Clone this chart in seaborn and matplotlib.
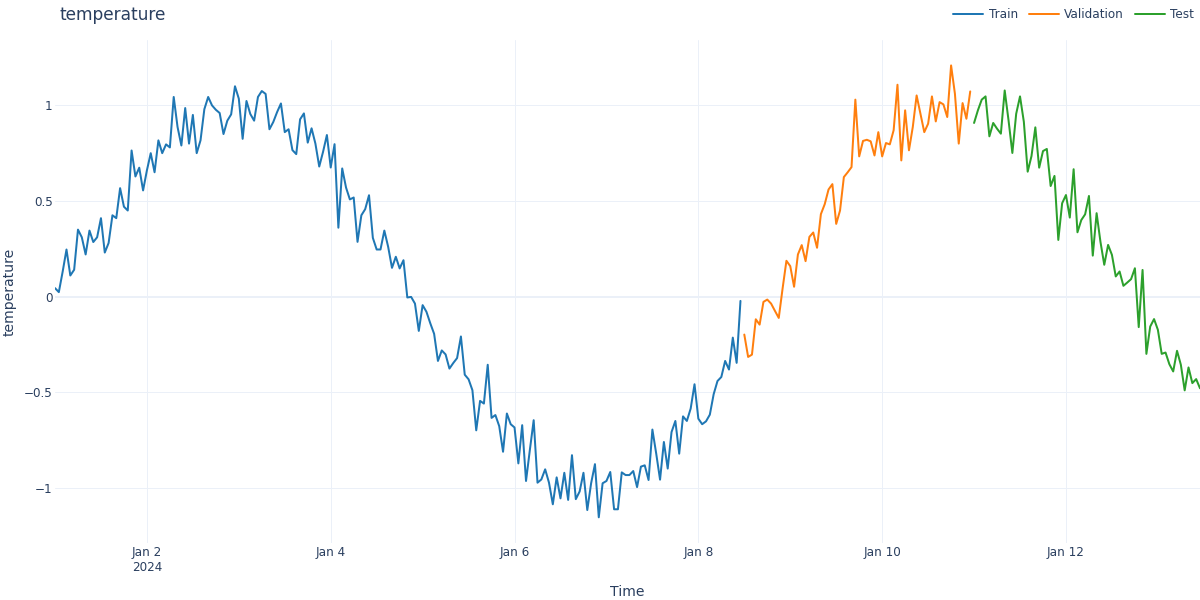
import numpy as np
import pandas as pd
import matplotlib
matplotlib.use('Agg')
import matplotlib.pyplot as plt
import seaborn as sns

# ---------------- data ----------------
train = [
    0.044, 0.023, 0.13, 0.246, 0.11, 0.14, 0.35, 0.31, 0.22, 0.345,
    0.285, 0.31, 0.41, 0.23, 0.28, 0.425, 0.41, 0.567, 0.47, 0.45,
    0.764, 0.628, 0.674, 0.555, 0.66, 0.75, 0.65, 0.817, 0.75, 0.796,
    0.78, 1.044, 0.887, 0.79, 0.986, 0.80, 0.95, 0.75, 0.817, 0.98,
    1.044, 1.0, 0.977, 0.96, 0.85, 0.92, 0.953, 1.10, 1.035, 0.825,
    1.023, 0.955, 0.92, 1.044, 1.075, 1.06, 0.875, 0.913, 0.965, 1.01,
    0.86, 0.875, 0.766, 0.745, 0.927, 0.958, 0.805, 0.88, 0.80, 0.68,
    0.757, 0.845, 0.675, 0.797, 0.36, 0.67, 0.57, 0.508, 0.518, 0.286,
    0.425, 0.457, 0.53, 0.307, 0.246, 0.246, 0.345, 0.26, 0.15, 0.208,
    0.147, 0.19, -0.005, -0.002, -0.037, -0.18, -0.045, -0.08, -0.14, -0.195,
    -0.337, -0.282, -0.303, -0.377, -0.348, -0.322, -0.209, -0.409, -0.433, -0.49,
    -0.70, -0.546, -0.56, -0.357, -0.635, -0.62, -0.678, -0.812, -0.612, -0.668,
    -0.685, -0.873, -0.673, -0.965, -0.803, -0.647, -0.974, -0.957, -0.904, -0.974,
    -1.087, -0.946, -1.056, -0.922, -1.064, -0.83, -1.06, -1.02, -0.922, -1.117,
    -0.977, -0.877, -1.155, -0.977, -0.965, -0.918, -1.113, -1.113, -0.92, -0.934,
    -0.934, -0.913, -0.997, -0.89, -0.883, -0.96, -0.696, -0.822, -0.958, -0.761,
    -0.90, -0.709, -0.651, -0.822, -0.627, -0.651, -0.586, -0.459, -0.639, -0.668,
    -0.653, -0.618, -0.511, -0.442, -0.421, -0.337, -0.382, -0.215, -0.347, -0.023,
]
validation = [
    -0.199, -0.316, -0.304, -0.119, -0.147, -0.028, -0.016, -0.037, -0.075, -0.112,
    0.042, 0.187, 0.159, 0.051, 0.22, 0.269, 0.185, 0.312, 0.335, 0.255,
    0.431, 0.483, 0.56, 0.588, 0.38, 0.45, 0.625, 0.65, 0.677, 1.03,
    0.733, 0.814, 0.82, 0.812, 0.738, 0.86, 0.733, 0.803, 0.796, 0.87,
    1.108, 0.712, 0.974, 0.765, 0.887, 1.052, 0.956, 0.86, 0.904, 1.047,
    0.916, 1.017, 1.005, 0.939, 1.209, 1.061, 0.80, 1.012, 0.93, 1.073,
]
test = [
    0.908, 0.974, 1.03, 1.047, 0.838, 0.908, 0.878, 0.852, 1.078, 0.922,
    0.751, 0.956, 1.047, 0.914, 0.653, 0.735, 0.885, 0.674, 0.761, 0.772,
    0.578, 0.631, 0.296, 0.488, 0.531, 0.413, 0.666, 0.336, 0.40, 0.43,
    0.526, 0.214, 0.436, 0.287, 0.166, 0.27, 0.218, 0.105, 0.131, 0.056,
    0.073, 0.091, 0.148, -0.16, 0.139, -0.30, -0.157, -0.118, -0.174, -0.30,
    -0.293, -0.354, -0.392, -0.284, -0.357, -0.491, -0.371, -0.453, -0.432, -0.48,
]
split_names = ['Train', 'Validation', 'Test']
split_colors = ['#1f77b4', '#ff7f0e', '#2ca02c']
start_time = '2024-01-01 00:00'
xtick_dates = ['2024-01-02', '2024-01-04', '2024-01-06', '2024-01-08',
               '2024-01-10', '2024-01-12']
xtick_labels = ['Jan 2\n2024', 'Jan 4', 'Jan 6', 'Jan 8', 'Jan 10', 'Jan 12']
ytick_values = [-1, -0.5, 0, 0.5, 1]
ytick_labels = ['\u22121', '\u22120.5', '0', '0.5', '1']
title_text = 'temperature'
x_title = 'Time'
y_title = 'temperature'

# ---------------- build table ----------------
values = train + validation + test
times = pd.date_range(start_time, periods=len(values), freq='h')
split = (['Train'] * len(train) + ['Validation'] * len(validation)
         + ['Test'] * len(test))
df = pd.DataFrame({'Time': times, 'temperature': values, 'split': split})

# ---------------- style ----------------
sns.set_theme(style='white')
plt.rcParams['font.family'] = ['DejaVu Sans']
TXT = '#2a3f5f'
GRID = '#EBF0F8'
PX = 0.72  # points per pixel at dpi 100

W, H = 1200, 600
fig = plt.figure(figsize=(12, 6), dpi=100)
fig.patch.set_facecolor('white')
left, right, top, bottom = 55, 1200, 40, 543.3
ax = fig.add_axes([left / W, 1 - bottom / H, (right - left) / W, (bottom - top) / H])
ax.set_facecolor('white')

sns.lineplot(data=df, x='Time', y='temperature', hue='split',
             hue_order=split_names,
             palette=dict(zip(split_names, split_colors)),
             linewidth=2 * PX, ax=ax, legend=True)

handles, labels = ax.get_legend_handles_labels()
ax.get_legend().remove()

ax.set_xlim(times[0], times[-1])
ax.set_ylim(-1.291, 1.342)

ax.set_xticks(pd.to_datetime(xtick_dates))
ax.set_xticklabels(xtick_labels)
ax.set_yticks(ytick_values)
ax.set_yticklabels(ytick_labels)

ax.grid(True, color=GRID, linewidth=1 * PX)
ax.set_axisbelow(True)
ax.axhline(0, color=GRID, linewidth=2 * PX, zorder=1)
for s in ax.spines.values():
    s.set_visible(False)

ax.tick_params(axis='both', length=0, labelsize=12 * PX, colors=TXT)
ax.tick_params(axis='y', pad=2.3 * PX)
ax.tick_params(axis='x', pad=3.0 * PX)
for lab in ax.get_xticklabels():
    lab.set_linespacing(1.15)

ax.set_xlabel(x_title, fontsize=14 * PX, color=TXT)
ax.set_ylabel(y_title, fontsize=14 * PX, color=TXT)
ax.xaxis.set_label_coords(0.5, (bottom - 592) / (bottom - top))
ax.xaxis.label.set_va('center')
ax.yaxis.set_label_coords((10 - left) / (right - left), 0.5)
ax.yaxis.label.set_va('center')

fig.text(60 / W, 1 - 14.5 / H, title_text, fontsize=17 * PX, color=TXT,
         ha='left', va='center')

leg = fig.legend(handles, labels, loc='center right',
                 bbox_to_anchor=(1194 / W, 1 - 14.5 / H),
                 ncol=3, frameon=False, fontsize=12 * PX,
                 handlelength=2.5, handletextpad=0.45, columnspacing=0.9,
                 borderpad=0, borderaxespad=0)
for t in leg.get_texts():
    t.set_color(TXT)

fig.savefig('out.png', dpi=100, facecolor='white')
